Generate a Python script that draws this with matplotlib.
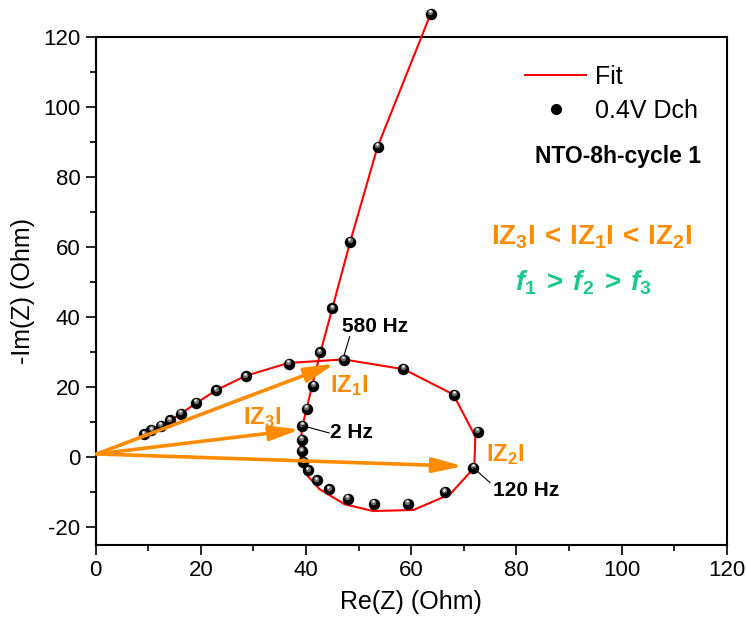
import numpy as np
import matplotlib
matplotlib.use("Agg")
import matplotlib.pyplot as plt
from matplotlib.transforms import offset_copy
from matplotlib.lines import Line2D

plt.rcParams['font.family'] = ['Liberation Sans', 'DejaVu Sans']
plt.rcParams['axes.unicode_minus'] = False
plt.rcParams['mathtext.fontset'] = 'custom'
plt.rcParams['mathtext.rm'] = 'Liberation Sans:bold'
plt.rcParams['mathtext.bf'] = 'Liberation Sans:bold'
plt.rcParams['mathtext.it'] = 'Liberation Sans:italic:bold'

# measured points (0.4V Dch), Re and -Im in Ohm
re_data = [9.2, 10.6, 12.4, 14.1, 16.2, 19.1, 22.9, 28.5, 36.7, 47.2, 58.5, 68.2, 72.7, 71.8,
           66.4, 59.4, 52.9, 47.9, 44.4, 42.0, 40.4, 39.5, 39.2, 39.2, 39.3, 40.1, 41.4, 42.6,
           45.0, 48.4, 53.6, 63.7]
im_data = [6.6, 7.8, 9.1, 10.6, 12.5, 15.6, 19.2, 23.2, 26.8, 27.9, 25.3, 17.9, 7.3, -2.9,
           -9.9, -13.2, -13.2, -11.8, -9.1, -6.5, -3.7, -1.3, 1.8, 5.1, 9.1, 13.9, 20.5, 30.0,
           42.6, 61.6, 88.7, 126.7]

# fit curve
re_fit = [9.2, 10.6, 12.4, 14.1, 16.2, 19.1, 22.9, 28.5, 36.7, 47.2, 58.6, 68.0, 72.2, 72.0,
          67.4, 60.4, 52.8, 47.4, 42.6, 39.8, 38.8, 39.3, 40.1, 41.2, 42.7, 45.0, 48.4, 53.6, 63.7]
im_fit = [6.5, 7.7, 9.0, 10.5, 12.5, 15.5, 19.2, 23.3, 27.0, 28.0, 25.2, 18.0, 6.0, -2.9,
          -10.5, -15.0, -15.3, -13.4, -9.1, -4.4, 1.4, 9.0, 13.8, 20.8, 29.8, 42.6, 61.6, 88.7, 126.7]

# |Z| vectors: origin and tips
arrow_origin = (0.2, 1.0)
arrow_tips = [(45.5, 26.8), (38.9, 8.0), (69.9, -2.5)]
arrow_names = [r'$\mathbf{IZ_1I}$', r'$\mathbf{IZ_3I}$', r'$\mathbf{IZ_2I}$']
arrow_label_pos = [(44.6, 20.6), (28.1, 11.5), (74.3, 0.7)]

# frequency labels: point, text position
freq_labels = ['580 Hz', '2 Hz', '120 Hz']
freq_points = [(47.2, 29.0), (39.3, 9.1), (71.8, -2.9)]
freq_text = [(46.8, 37.4), (44.6, 7.1), (75.5, -9.4)]
freq_line_end = [(48.3, 34.5), (44.4, 7.0), (75.0, -7.2)]

orange = '#FF8C00'
green = '#1DC98A'

fig = plt.figure(figsize=(7.47, 6.25), dpi=100)
ax = fig.add_axes([0.1281, 0.128, 0.8447, 0.8123])

ax.plot(re_fit, im_fit, color='red', lw=1.5, zorder=3, clip_on=False)

# shiny black spheres
ax.scatter(re_data, im_data, s=68, color='black', zorder=4, clip_on=False, linewidths=0)
hl = offset_copy(ax.transData, fig=fig, x=-0.4, y=1.2, units='points')
ax.scatter(re_data, im_data, s=16, color='#707070', zorder=5, clip_on=False, linewidths=0, transform=hl)
hl2 = offset_copy(ax.transData, fig=fig, x=-0.5, y=1.8, units='points')
ax.scatter(re_data, im_data, s=3, color='white', zorder=6, clip_on=False, linewidths=0, transform=hl2)

for tip in arrow_tips:
    ax.annotate('', xy=tip, xytext=arrow_origin, zorder=7,
                arrowprops=dict(arrowstyle='-|>,head_length=0.9,head_width=0.22',
                                color=orange, lw=2.6, shrinkA=0, shrinkB=0, mutation_scale=20))
for name, pos in zip(arrow_names, arrow_label_pos):
    ax.text(pos[0], pos[1], name, color=orange, fontsize=17, ha='left', va='center', zorder=8)

for lab, p, t, e in zip(freq_labels, freq_points, freq_text, freq_line_end):
    ax.plot([p[0], e[0]], [p[1], e[1]], color='black', lw=0.8, zorder=6)
    ax.text(t[0], t[1], lab, fontsize=15, fontweight='bold', ha='left', va='center', zorder=8)

ax.set_xlim(0, 120)
ax.set_ylim(-25, 120)
ax.set_xticks(np.arange(0, 121, 20))
ax.set_yticks(np.arange(-20, 121, 20))
ax.set_xticks(np.arange(10, 120, 20), minor=True)
ax.set_yticks(np.arange(-10, 120, 20), minor=True)
ax.tick_params(which='major', direction='out', length=7, width=1.2, labelsize=16, pad=4)
ax.tick_params(which='minor', direction='out', length=4, width=1.2)
for sp in ax.spines.values():
    sp.set_linewidth(1.5)
ax.set_xlabel('Re(Z) (Ohm)', fontsize=18, labelpad=6)
ax.set_ylabel('-Im(Z) (Ohm)', fontsize=18, labelpad=6)

handles = [Line2D([], [], color='red', lw=1.5),
           Line2D([], [], ls='none', marker='o', color='black', markersize=7)]
ax.legend(handles, ['Fit', '0.4V Dch'], loc='upper left', bbox_to_anchor=(0.681, 0.945),
          frameon=False, fontsize=18, handlelength=2.44, handletextpad=0.35,
          labelspacing=0.4, borderpad=0, borderaxespad=0)

ax.text(0.960, 0.765, 'NTO-8h-cycle 1', transform=ax.transAxes, fontsize=16.5,
        fontweight='bold', ha='right', va='center')
ax.text(0.786, 0.607, r'$\mathbf{IZ_3I\,<\,IZ_1I\,<\,IZ_2I}$', transform=ax.transAxes,
        fontsize=20, color=orange, ha='center', va='center')
ax.text(0.773, 0.516, r'$\mathit{f_1\:>\:f_2\:>\:f_3}$', transform=ax.transAxes,
        fontsize=20, color=green, ha='center', va='center')

fig.savefig('out.png', dpi=100)
